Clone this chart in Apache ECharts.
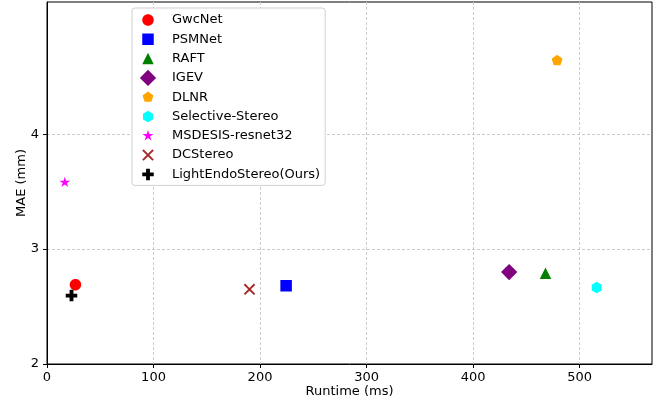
<!DOCTYPE html>
<html>
<head>
<meta charset="utf-8">
<script src="https://cdn.jsdelivr.net/npm/echarts@6/dist/echarts.min.js"></script>
<style>html,body{margin:0;padding:0;background:#fff;}#c{width:656px;height:402px;}</style>
</head>
<body>
<div id="c"></div>
<script>
// ---- data ----
const methods = ['GwcNet', 'PSMNet', 'RAFT', 'IGEV', 'DLNR', 'Selective-Stereo', 'MSDESIS-resnet32', 'DCStereo', 'LightEndoStereo(Ours)'];
const runtimes = [26.7, 224.5, 468, 433.9, 478.9, 516.1, 16.7, 190.1, 23];
const maes = [2.69, 2.68, 2.79, 2.80, 4.64, 2.665, 3.58, 2.65, 2.595];
const xTicks = [0, 100, 200, 300, 400, 500];
const yTicks = [2, 3, 4];

// ---- styles ----
const colors = ['#ff0000', '#0000ff', '#008000', '#800080', '#ffa500', '#00ffff', '#ff00ff', '#a52a2a', '#000000'];
const H = 5.75;
function regPoly(n, R, startDeg) {
  const p = [];
  for (let k = 0; k < n; k++) {
    const a = (startDeg + k * 360 / n) * Math.PI / 180;
    p.push([R * Math.cos(a), -R * Math.sin(a)]);
  }
  return p;
}
function starPts(R, r) {
  const p = [];
  for (let k = 0; k < 10; k++) {
    const a = (90 + k * 36) * Math.PI / 180;
    const rr = k % 2 === 0 ? R : r;
    p.push([rr * Math.cos(a), -rr * Math.sin(a)]);
  }
  return p;
}
function pathOf(pts) {
  return 'path://M-9 -9Z M9 9Z M' + pts.map(p => p[0].toFixed(3) + ' ' + p[1].toFixed(3)).join(' L') + ' Z';
}
const dd = 8.13, t = 1.34, a3 = H / 3;
const shapes = [
  regPoly(40, H, 0),
  [[-H, -H], [H, -H], [H, H], [-H, H]],
  [[0, -H], [H, H], [-H, H]],
  [[0, -dd], [dd, 0], [0, dd], [-dd, 0]],
  regPoly(5, H, 90),
  regPoly(6, H, 90),
  starPts(H, H * 0.381966),
  [[-H, -H + t], [-H + t, -H], [0, -t], [H - t, -H], [H, -H + t], [t, 0], [H, H - t], [H - t, H], [0, t], [-H + t, H], [-H, H - t], [-t, 0]],
  [[-a3, -H], [a3, -H], [a3, -a3], [H, -a3], [H, a3], [a3, a3], [a3, H], [-a3, H], [-a3, a3], [-H, a3], [-H, -a3], [-a3, -a3]]
];
const symbols = shapes.map(pathOf);

const series = methods.map((m, i) => ({
  name: m,
  type: 'scatter',
  data: [[runtimes[i], maes[i]]],
  symbol: symbols[i],
  symbolSize: 18,
  itemStyle: { color: colors[i], opacity: 1 },
  emphasis: { disabled: true },
  z: 2 + i
}));

const font = 'DejaVu Sans';
const chart = echarts.init(document.getElementById('c'), null, { renderer: 'canvas' });
chart.setOption({
  animation: false,
  backgroundColor: '#fff',
  grid: { left: 47, right: 4, top: 2, bottom: 38, containLabel: false, outerBoundsMode: 'none', show: true, borderColor: '#000', borderWidth: 1, backgroundColor: 'transparent' },
  legend: {
    orient: 'vertical',
    left: 132,
    top: 8,
    padding: [3, 5, 2, 7],
    itemWidth: 18,
    itemHeight: 18,
    itemGap: 1.3,
    backgroundColor: '#fff',
    borderColor: '#d0d0d0',
    borderWidth: 1,
    borderRadius: 3,
    selectedMode: false,
    data: methods.map((m, i) => ({ name: m, icon: symbols[i] })),
    textStyle: { fontFamily: font, fontSize: 13, color: '#000', lineHeight: 18, padding: [0, 0, 0, 10] }
  },
  xAxis: {
    type: 'value',
    min: 0, max: 568, interval: 100,
    name: 'Runtime (ms)', nameLocation: 'middle', nameGap: 21, nameMoveOverlap: false,
    nameTextStyle: { fontFamily: font, fontSize: 13, color: '#000' },
    axisLine: { show: true, lineStyle: { color: '#000', width: 1 } },
    axisTick: { show: true, length: 4, inside: false, customValues: xTicks, lineStyle: { color: '#000', width: 1 } },
    axisLabel: { customValues: xTicks, margin: 7, fontFamily: font, fontSize: 13, color: '#000' },
    splitLine: { show: true, lineStyle: { color: '#cccccc', width: 1, type: [3, 2] } }
  },
  yAxis: {
    type: 'value',
    min: 2, max: 5.15, interval: 1,
    name: 'MAE (mm)', nameLocation: 'middle', nameGap: 18.5, nameMoveOverlap: false,
    nameTextStyle: { fontFamily: font, fontSize: 13, color: '#000' },
    axisLine: { show: true, lineStyle: { color: '#000', width: 1 } },
    axisTick: { show: true, length: 4, inside: false, customValues: yTicks, lineStyle: { color: '#000', width: 1 } },
    axisLabel: { customValues: yTicks, margin: 8, fontFamily: font, fontSize: 13, color: '#000' },
    splitLine: { show: true, lineStyle: { color: '#cccccc', width: 1, type: [3, 2] } }
  },
  series: series
});
</script>
</body>
</html>
